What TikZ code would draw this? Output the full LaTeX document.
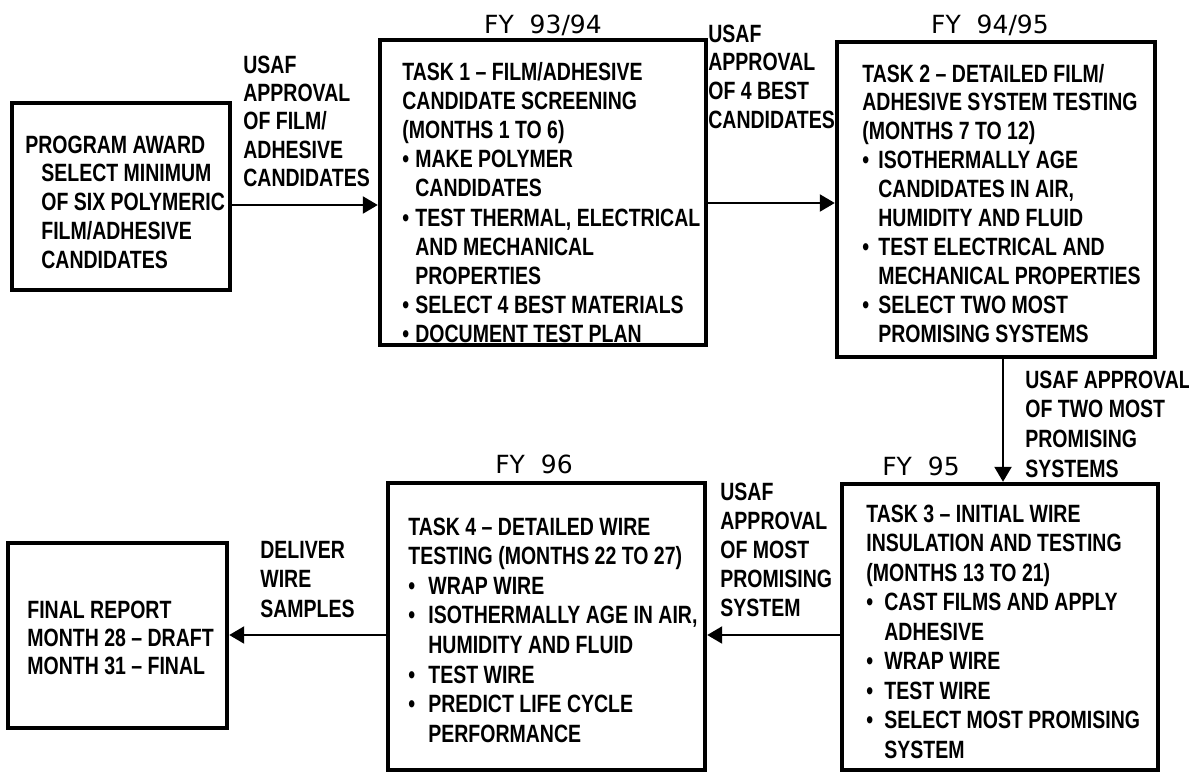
\documentclass[tikz,border=0pt]{standalone}
\usepackage{fontspec}
\setmainfont{Liberation Sans}
\newfontfamily\labfont[FakeStretch=0.78]{Liberation Sans}
\newfontfamily\fyfont{DejaVu Sans}
\usetikzlibrary{arrows.meta}
\newlength{\bw}
\newcommand{\bu}{\makebox[\bw][l]{•}}
\newcommand{\ct}{\hspace*{\bw}}
\newcommand{\lines}[2]{\fontsize{12.5}{#1}\selectfont\begin{tabular}[t]{@{}l@{}}#2\end{tabular}}
\tikzset{
  box/.style={draw, line width=2.2pt, inner sep=0pt},
  txt/.style={anchor=base west, inner sep=0pt, font=\labfont\bfseries},
  fy/.style={anchor=base, inner sep=0pt, font=\fyfont\fontsize{12.5}{15}\selectfont},
  arr/.style={line width=1.1pt, -{Triangle[length=7.5pt,width=8.5pt]}}
}
\begin{document}
\begin{tikzpicture}[x=0.5pt,y=-0.5pt]
\useasboundingbox[fill=white] (0,0) rectangle (1189,773);

% boxes
\node[box, minimum width=109pt, minimum height=93.5pt] (b1) at (121,196.5) {};
\node[box, minimum width=163pt, minimum height=152.5pt] (b2) at (543,192.5) {};
\node[box, minimum width=159pt, minimum height=157.5pt] (b3) at (996,199.5) {};
\node[box, minimum width=158pt, minimum height=143pt] (b4) at (1000,627) {};
\node[box, minimum width=158.5pt, minimum height=143.5pt] (b5) at (546.5,626.5) {};
\node[box, minimum width=109.5pt, minimum height=92.5pt] (b6) at (117.5,635.5) {};

% box texts
\node[txt] (t1) at (25,153) {\setlength{\bw}{8pt}\lines{14.4pt}{%
PROGRAM AWARD\\
\ct SELECT MINIMUM\\
\ct OF SIX POLYMERIC\\
\ct FILM/ADHESIVE\\
\ct CANDIDATES}};

\node[txt] (t2) at (402,80) {\setlength{\bw}{6.5pt}\lines{14.6pt}{%
TASK 1 – FILM/ADHESIVE\\
CANDIDATE SCREENING\\
(MONTHS 1 TO 6)\\
\bu MAKE POLYMER\\
\ct CANDIDATES\\
\bu TEST THERMAL, ELECTRICAL\\
\ct AND MECHANICAL\\
\ct PROPERTIES\\
\bu SELECT 4 BEST MATERIALS\\
\bu DOCUMENT TEST PLAN}};

\node[txt] (t3) at (862,82) {\setlength{\bw}{8pt}\lines{14.45pt}{%
TASK 2 – DETAILED FILM/\\
ADHESIVE SYSTEM TESTING\\
(MONTHS 7 TO 12)\\
\bu ISOTHERMALLY AGE\\
\ct CANDIDATES IN AIR,\\
\ct HUMIDITY AND FLUID\\
\bu TEST ELECTRICAL AND\\
\ct MECHANICAL PROPERTIES\\
\bu SELECT TWO MOST\\
\ct PROMISING SYSTEMS}};

\node[txt] (t4) at (866,522) {\setlength{\bw}{9pt}\lines{14.75pt}{%
TASK 3 – INITIAL WIRE\\
INSULATION AND TESTING\\
(MONTHS 13 TO 21)\\
\bu CAST FILMS AND APPLY\\
\ct ADHESIVE\\
\bu WRAP WIRE\\
\bu TEST WIRE\\
\bu SELECT MOST PROMISING\\
\ct SYSTEM}};

\node[txt] (t5) at (408,535) {\setlength{\bw}{10pt}\lines{14.8pt}{%
TASK 4 – DETAILED WIRE\\
TESTING (MONTHS 22 TO 27)\\
\bu WRAP WIRE\\
\bu ISOTHERMALLY AGE IN AIR,\\
\ct HUMIDITY AND FLUID\\
\bu TEST WIRE\\
\bu PREDICT LIFE CYCLE\\
\ct PERFORMANCE}};

\node[txt] (t6) at (27,618) {\lines{14.2pt}{%
FINAL REPORT\\
MONTH 28 – DRAFT\\
MONTH 31 – FINAL}};

% fiscal year labels
\node[fy] (fy1) at (543,33) {FY\ \ 93/94};
\node[fy] (fy2) at (990,33) {FY\ \ 94/95};
\node[fy] (fy3) at (921,475) {FY\ \ 95};
\node[fy] (fy4) at (534,473) {FY\ \ 96};

% connector labels
\node[txt] (l1) at (243,73) {\lines{14.2pt}{%
USAF\\ APPROVAL\\ OF FILM/\\ ADHESIVE\\ CANDIDATES}};
\node[txt] (l2) at (708,42) {\lines{14.4pt}{%
USAF\\ APPROVAL\\ OF 4 BEST\\ CANDIDATES}};
\node[txt] (l3) at (1025,388) {\lines{14.85pt}{%
USAF APPROVAL\\ OF TWO MOST\\ PROMISING\\ SYSTEMS}};
\node[txt] (l4) at (720,500) {\lines{14.5pt}{%
USAF\\ APPROVAL\\ OF MOST\\ PROMISING\\ SYSTEM}};
\node[txt] (l5) at (260,558) {\lines{14.75pt}{%
DELIVER\\ WIRE\\ SAMPLES}};

% connectors
\draw[arr] (b1.east |- 0,205) -- (b2.west |- 0,205);
\draw[arr] (b2.east |- 0,203) -- (b3.west |- 0,203);
\draw[arr] (b3.south -| 1003,0) -- (b4.north -| 1003,0);
\draw[arr] (b4.west |- 0,635) -- (b5.east |- 0,635);
\draw[arr] (b5.west |- 0,635) -- (b6.east |- 0,635);
\end{tikzpicture}
\end{document}
